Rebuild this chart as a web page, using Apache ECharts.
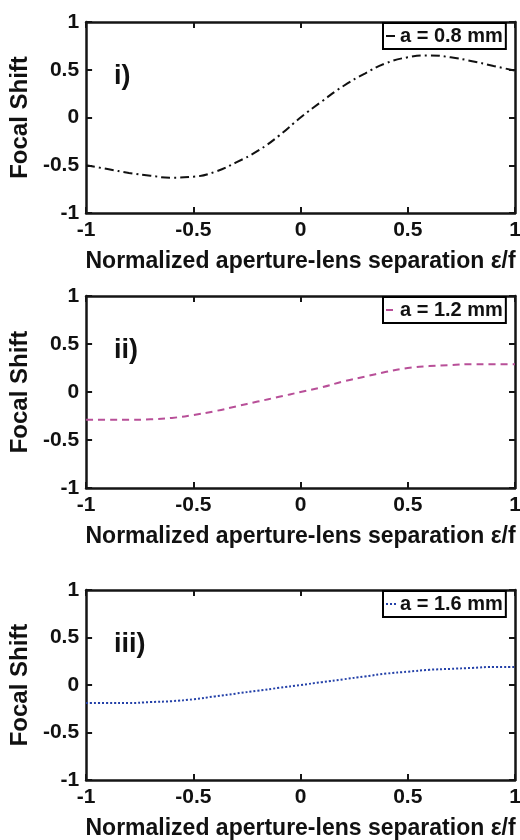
<!DOCTYPE html>
<html lang="en">
<head>
    <meta charset="UTF-8">
    <title>Focal Shift</title>
    <style>
        * { margin: 0; padding: 0; }
        html, body { width: 100%; height: 100%; background: #fff; overflow: hidden; }
        /* a little larger than the window so the right/bottom labels don't shrink the grids */
        #main { width: 540px; height: 860px; }
    </style>
</head>
<body>
    <div id="main"></div>
    <script src="https://cdn.jsdelivr.net/npm/echarts@6/dist/echarts.min.js"></script>
    <script>
        // x positions (normalized aperture-lens separation)
        var sepX = [-1, -0.9, -0.8, -0.7, -0.6, -0.5, -0.4, -0.3, -0.2, -0.1, 0,
                    0.1, 0.2, 0.3, 0.4, 0.5, 0.6, 0.7, 0.8, 0.9, 1];
        // focal shift
        var shiftA08 = [-0.50, -0.54, -0.58, -0.61, -0.63, -0.62, -0.57, -0.47, -0.35, -0.19, 0.00,
                        0.17, 0.33, 0.46, 0.57, 0.63, 0.65, 0.63, 0.59, 0.54, 0.49];
        var shiftA12 = [-0.29, -0.29, -0.29, -0.285, -0.27, -0.24, -0.20, -0.15, -0.10, -0.05, 0.00,
                        0.05, 0.11, 0.16, 0.21, 0.25, 0.27, 0.28, 0.29, 0.29, 0.29];
        var shiftA16 = [-0.19, -0.19, -0.19, -0.18, -0.17, -0.15, -0.12, -0.09, -0.06, -0.03, 0.00,
                        0.03, 0.06, 0.09, 0.12, 0.14, 0.16, 0.17, 0.18, 0.19, 0.19];
        var seriesNames = ['a = 0.8 mm', 'a = 1.2 mm', 'a = 1.6 mm'];
        var panelLabels = ['i)', 'ii)', 'iii)'];
        var xTicks = { min: -1, max: 1, interval: 0.5 };
        var yTicks = { min: -1, max: 1, interval: 0.5 };

        var font = 'Liberation Sans';
        var frame = '#151515';

        // layout of the three stacked panels
        var panels = [
            { top: 22, height: 191, values: shiftA08, color: '#111111', dash: [9, 4, 2, 4], legendTop: 23 },
            { top: 296, height: 192, values: shiftA12, color: '#b84f98', dash: [7, 5], legendTop: 297 },
            { top: 590, height: 190, values: shiftA16, color: '#2340a8', dash: [2, 2], legendTop: 591 }
        ];

        function pairs(xs, ys) {
            return xs.map(function (x, i) { return [x, ys[i]]; });
        }

        var grid = [], xAxis = [], yAxis = [], series = [], legend = [], title = [];

        panels.forEach(function (p, i) {
            grid.push({ left: 81, width: 434, top: p.top, height: p.height });

            var tick = { show: true, inside: true, length: 6, lineStyle: { color: frame, width: 2 } };
            var line = { show: true, onZero: false, lineStyle: { color: frame, width: 2.5 } };

            // bottom x axis with labels
            xAxis.push({
                type: 'value', gridIndex: i, position: 'bottom',
                min: xTicks.min, max: xTicks.max, interval: xTicks.interval,
                axisLine: line, axisTick: tick, splitLine: { show: false },
                axisLabel: { color: '#111', fontFamily: font, fontWeight: 'bold', fontSize: 21, margin: 7 },
                name: 'Normalized aperture-lens separation \u03b5/f',
                nameLocation: 'middle', nameGap: 37,
                nameTextStyle: { color: '#111', fontFamily: font, fontWeight: 'bold', fontSize: 23 }
            });
            // top x axis, frame only
            xAxis.push({
                type: 'value', gridIndex: i, position: 'top',
                min: xTicks.min, max: xTicks.max, interval: xTicks.interval,
                axisLine: line, axisTick: tick, splitLine: { show: false },
                axisLabel: { show: false }
            });
            yAxis.push({
                type: 'value', gridIndex: i, position: 'left',
                min: yTicks.min, max: yTicks.max, interval: yTicks.interval,
                axisLine: line, axisTick: tick, splitLine: { show: false },
                axisLabel: { color: '#111', fontFamily: font, fontWeight: 'bold', fontSize: 21, margin: 7 },
                name: 'Focal Shift', nameLocation: 'middle', nameGap: 28,
                nameTextStyle: { color: '#111', fontFamily: font, fontWeight: 'bold', fontSize: 24 }
            });
            yAxis.push({
                type: 'value', gridIndex: i, position: 'right',
                min: yTicks.min, max: yTicks.max, interval: yTicks.interval,
                axisLine: line, axisTick: tick, splitLine: { show: false },
                axisLabel: { show: false }
            });

            series.push({
                name: seriesNames[i],
                type: 'line',
                xAxisIndex: i * 2, yAxisIndex: i * 2,
                smooth: true, symbol: 'none',
                lineStyle: { color: p.color, width: 2, type: p.dash },
                itemStyle: { color: p.color },
                data: pairs(sepX, p.values)
            });

            legend.push({
                data: [seriesNames[i]],
                left: 383, top: p.legendTop,
                backgroundColor: '#fff', borderColor: '#000', borderWidth: 2,
                padding: [3, 3, 3, 2], itemWidth: 11, itemHeight: 10, itemGap: 3,
                itemStyle: { opacity: 0 },
                textStyle: { color: '#111', fontFamily: font, fontWeight: 'bold', fontSize: 20, padding: [0, 0, 0, -2] }
            });

            title.push({
                text: panelLabels[i],
                left: 109, top: p.top + 36,
                textStyle: { color: '#111', fontFamily: font, fontWeight: 'bold', fontSize: 27 }
            });
        });

        var myChart = echarts.init(document.getElementById('main'));
        myChart.setOption({
            backgroundColor: '#fff',
            animation: false,
            title: title,
            legend: legend,
            grid: grid,
            xAxis: xAxis,
            yAxis: yAxis,
            series: series
        });
    </script>
</body>
</html>
